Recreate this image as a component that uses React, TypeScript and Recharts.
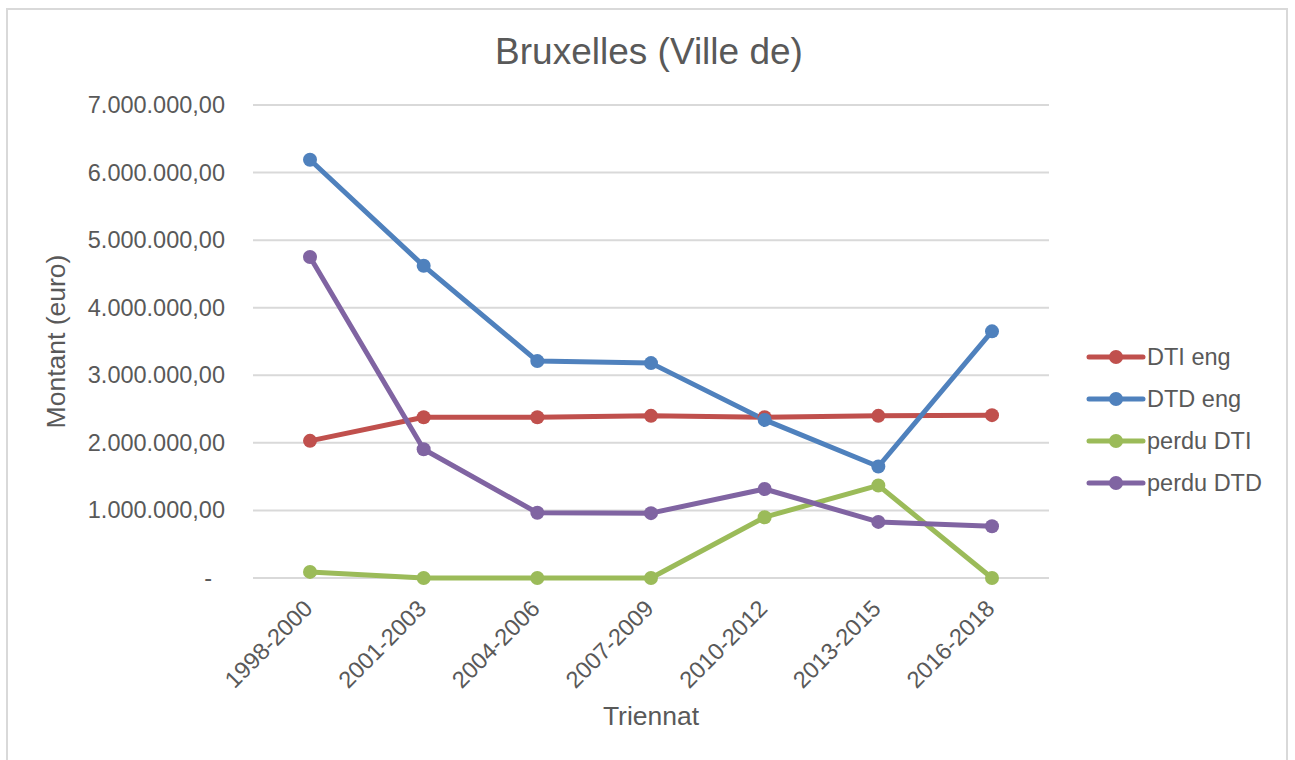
import React from 'react';
import { LineChart, Line, XAxis, YAxis, CartesianGrid, Legend, Label } from 'recharts';

const categories = ['1998-2000', '2001-2003', '2004-2006', '2007-2009', '2010-2012', '2013-2015', '2016-2018'];
const dtiEng = [2030000, 2380000, 2380000, 2400000, 2380000, 2400000, 2410000];
const dtdEng = [6190000, 4620000, 3210000, 3180000, 2340000, 1650000, 3650000];
const perduDti = [90000, 0, 0, 0, 900000, 1370000, 0];
const perduDtd = [4750000, 1905000, 965000, 960000, 1317000, 830000, 765000];
const yTicks = [0, 1000000, 2000000, 3000000, 4000000, 5000000, 6000000, 7000000];

const seriesNames = ['DTI eng', 'DTD eng', 'perdu DTI', 'perdu DTD'];
const colors = ['#C0504D', '#4F81BD', '#9BBB59', '#8064A2'];

const data = categories.map((t, i) => ({
  t,
  'DTI eng': dtiEng[i],
  'DTD eng': dtdEng[i],
  'perdu DTI': perduDti[i],
  'perdu DTD': perduDtd[i],
}));

const FONT = '"Liberation Sans", Arial, sans-serif';
const TEXT = '#595959';

const fmt = (v: number) =>
  v === 0 ? '-' : String(Math.round(v)).replace(/\B(?=(\d{3})+(?!\d))/g, '.') + ',00';

const YTick = (props: any) => {
  const { x, y, payload } = props;
  const v = payload.value;
  return (
    <text x={v === 0 ? x - 13 : x} y={y} dy={8} textAnchor="end" fill={TEXT} fontSize={23.5} fontFamily={FONT}>
      {fmt(v)}
    </text>
  );
};

const XTick = (props: any) => {
  const { x, y, payload } = props;
  return (
    <g transform={`translate(${x + 4},${y + 32})`}>
      <text x={0} y={0} textAnchor="end" transform="rotate(-45)" fill={TEXT} fontSize={23.5} fontFamily={FONT}>
        {payload.value}
      </text>
    </g>
  );
};

const LegendContent = () => {
  return (
    <div style={{ fontFamily: FONT, fontSize: 23.5, color: TEXT }}>
      {seriesNames.map((name, i) => (
        <div key={name} style={{ height: 42, display: 'flex', alignItems: 'center' }}>
          <svg width={62} height={20} style={{ display: 'block' }}>
            <line x1={5} y1={10} x2={59} y2={10} stroke={colors[i]} strokeWidth={5} strokeLinecap="round" />
            <circle cx={32} cy={10} r={7} fill={colors[i]} />
          </svg>
          <span style={{ marginLeft: 1, whiteSpace: 'nowrap' }}>{name}</span>
        </div>
      ))}
    </div>
  );
};

export default function App() {
  return (
    <div style={{ position: 'absolute', left: 0, top: 0, width: 1295, height: 760, overflow: 'hidden', background: '#fff' }}>
      <div
        style={{
          position: 'absolute',
          left: 6,
          top: 8,
          width: 1282,
          height: 800,
          border: '2px solid #d9d9d9',
          boxSizing: 'border-box',
        }}
      />
      <div
        style={{
          position: 'absolute',
          left: 0,
          top: 27,
          width: 1298,
          textAlign: 'center',
          fontFamily: FONT,
          fontSize: 37,
          color: TEXT,
          lineHeight: '50px',
        }}
      >
        Bruxelles (Ville de)
      </div>
      <div style={{ position: 'absolute', left: 0, top: 0 }}>
        <LineChart width={1295} height={760} data={data} margin={{ top: 105, right: 246, bottom: 0, left: 30 }}>
          <CartesianGrid vertical={false} stroke="#d9d9d9" strokeWidth={2} />
          <XAxis
            dataKey="t"
            interval={0}
            tickLine={false}
            axisLine={false}
            tickSize={0}
            tickMargin={0}
            height={182}
            padding={{ left: 57, right: 57 }}
            tick={<XTick />}
          >
            <Label value="Triennat" position="insideBottom" offset={35} fill={TEXT} fontSize={26.5} fontFamily={FONT} />
          </XAxis>
          <YAxis
            type="number"
            domain={[0, 7000000]}
            ticks={yTicks}
            interval={0}
            width={223}
            tickLine={false}
            axisLine={false}
            tickSize={0}
            tickMargin={28}
            tick={<YTick />}
          >
            <Label
              value="Montant (euro)"
              angle={-90}
              position="insideLeft"
              offset={26}
              fill={TEXT}
              fontSize={26.5}
              fontFamily={FONT}
              style={{ textAnchor: 'middle' }}
            />
          </YAxis>
          {seriesNames.map((name, i) => (
            <Line
              key={name}
              type="linear"
              dataKey={name}
              stroke={colors[i]}
              strokeWidth={5}
              strokeLinejoin="round"
              strokeLinecap="round"
              dot={{ r: 7, fill: colors[i], stroke: colors[i], strokeWidth: 0 }}
              activeDot={false}
              isAnimationActive={false}
            />
          ))}
          <Legend
            layout="vertical"
            align="center"
            verticalAlign="middle"
            wrapperStyle={{ left: 1084, top: 336, width: 205 }}
            content={<LegendContent />}
          />
        </LineChart>
      </div>
    </div>
  );
}
